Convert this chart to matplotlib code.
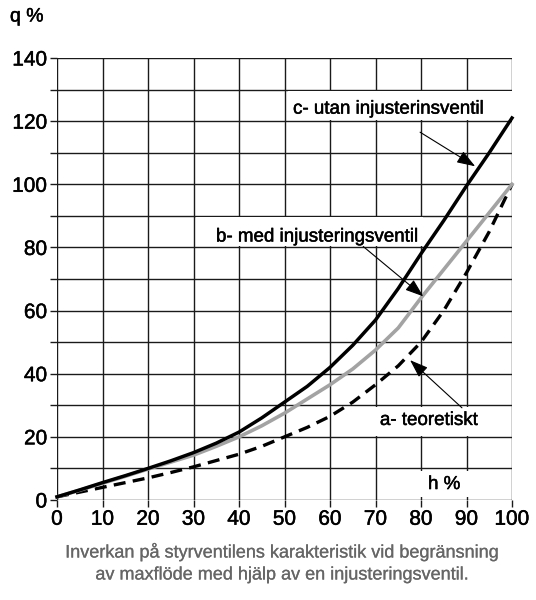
import matplotlib
matplotlib.use("Agg")
import matplotlib.pyplot as plt
from matplotlib.patches import Rectangle
import matplotlib.patheffects as pe

plt.rcParams['font.family'] = ['Liberation Sans', 'DejaVu Sans']

h = [0, 5, 10, 15, 20, 25, 30, 35, 40, 45, 50, 55, 60, 65, 70, 75, 80, 85, 90, 95, 100]
q_c = [1, 3.2, 5.5, 7.7, 10, 12.4, 15, 18, 21.5, 26, 31, 36, 42, 49, 57, 67, 78, 88.5, 99.5, 110, 121]
q_b = [1, 3.1, 5.3, 7.5, 9.8, 12, 14.2, 17, 20, 23.5, 27.5, 32, 36.5, 41.5, 47.5, 54.5, 64, 73, 82, 91, 100]
q_a = [1, 2.5, 4, 5.5, 7, 8.7, 10.5, 12.5, 14.5, 17, 20, 23, 26.5, 31, 36.5, 42.5, 50, 60, 72, 85, 100]

x_ticks = [0, 10, 20, 30, 40, 50, 60, 70, 80, 90, 100]
y_ticks = [0, 20, 40, 60, 80, 100, 120, 140]
y_grid = [0, 10, 20, 30, 40, 50, 60, 70, 80, 90, 100, 110, 120, 130, 140]

label_c = "c- utan injusterinsventil"
label_b = "b- med injusteringsventil"
label_a = "a- teoretiskt"
x_label = "h %"
y_label = "q %"
caption1 = "Inverkan på styrventilens karakteristik vid begränsning"
caption2 = "av maxflöde med hjälp av en injusteringsventil."

fig = plt.figure(figsize=(5.36, 6.0), dpi=100)
ax = fig.add_axes([57/536, 1-500/600, (512-57)/536, (500-58)/600])
ax.set_xlim(0, 100)
ax.set_ylim(0, 140)

gc = '#1a1a1a'
for x in x_ticks:
    ax.axvline(x, color=gc, lw=1.0, zorder=1)
for y in y_grid:
    ax.axhline(y, color=gc, lw=1.0, zorder=1)
for s in ax.spines.values():
    s.set_visible(False)

thick = [pe.withStroke(linewidth=0.35, foreground='black')]
thick_g = [pe.withStroke(linewidth=0.15, foreground='#666666')]

ax.set_xticks(x_ticks)
ax.set_yticks(y_ticks)
ax.set_yticks(y_grid, minor=True)
ax.tick_params(axis='both', which='both', direction='out', length=5, width=1.0, color=gc, labelsize=15, pad=2)
ax.tick_params(axis='x', which='minor', bottom=False)
ax.set_xticklabels([str(v) for v in x_ticks])
ax.set_yticklabels([str(v) for v in y_ticks])
for t in ax.get_xticklabels() + ax.get_yticklabels():
    t.set_path_effects(thick)

# white label boxes hiding grid
boxes = [((50.7, 120.4), 49.2, 9.2), ((30.5, 80.4), 50.0, 9.2), ((67.6, 20.4), 27.3, 9.2), ((78.6, 0.9), 14.0, 8.3)]
for (x0, y0), w, hgt in boxes:
    ax.add_patch(Rectangle((x0, y0), w, hgt, facecolor='white', edgecolor='none', zorder=2))

ax.plot(h, q_a, color='black', lw=2.4, ls=(0, (3.6, 2.2)), zorder=4, clip_on=False)
ax.plot(h, q_b, color='#a3a3a3', lw=2.6, zorder=4, clip_on=False)
ax.plot(h, q_c, color='black', lw=2.5, zorder=5, clip_on=False)

tk = dict(fontsize=13.5, ha='center', va='center', zorder=6, path_effects=thick)
ax.text(72.8, 123.8, label_c, **tk)
ax.text(57.1, 83.3, label_b, **tk)
ax.text(81.7, 25.2, label_a, **tk)
ax.text(85.1, 4.9, x_label, **tk)

ap = dict(arrowstyle='-|>,head_length=0.7,head_width=0.25', lw=0.8, color='black', mutation_scale=16, shrinkA=0, shrinkB=0)
ax.annotate('', xy=(91.9, 105.7), xytext=(79.8, 116.5), arrowprops=ap, zorder=6)
ax.annotate('', xy=(80.5, 64.5), xytext=(67.3, 80.3), arrowprops=ap, zorder=6)
ax.annotate('', xy=(77.6, 44.3), xytext=(89.0, 29.2), arrowprops=ap, zorder=6)

fig.text(10/536, 1-17/600, y_label, fontsize=14, ha='left', va='center', path_effects=thick)
fig.text(282/536, 1-552/600, caption1, fontsize=13, color='#666666', ha='center', va='center', path_effects=thick_g)
fig.text(282/536, 1-575/600, caption2, fontsize=13, color='#666666', ha='center', va='center', path_effects=thick_g)

fig.savefig('out.png', dpi=100)
